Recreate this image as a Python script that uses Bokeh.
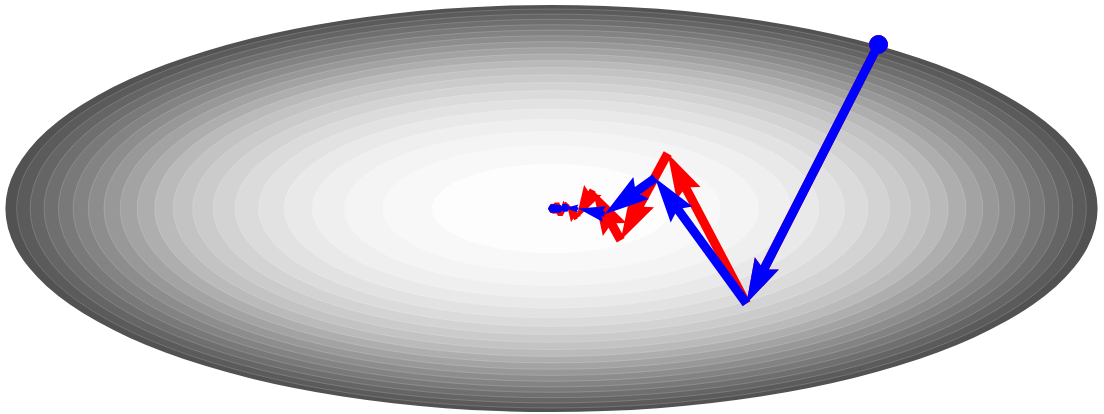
import numpy as np
from bokeh.plotting import figure
from bokeh.models import Range1d
from bokeh.embed import file_html
from bokeh.resources import INLINE

# Contour levels of the bowl f(x, y) = (x / 1.196)^2 + (y / 0.446)^2
levels = [1, 2, 3, 4, 5, 6, 7, 8, 9, 10, 11, 12, 13, 14, 15, 16, 17, 18, 19, 20, 20.85]
level_semi_axes = (1.196, 0.446)
# fill of the band that ends at each level (inner -> outer)
band_colors = ["#fdfdfd", "#f8f8f8", "#f4f4f4", "#efefef", "#e9e9e9", "#e2e2e2", "#dbdbdb",
               "#d3d3d3", "#cbcbcb", "#c3c3c3", "#bababa", "#aeaeae", "#a3a3a3", "#989898",
               "#8d8d8d", "#838383", "#797979", "#6f6f6f", "#656565", "#5b5b5b", "#525252"]

# Iterates of plain gradient descent
gd_x = [3.27, 1.949, 1.162, 0.692, 0.413, 0.246, 0.147, 0.087, 0.052, 0.031, 0.018, 0.011, 0.007]
gd_y = [1.64, -0.950, 0.550, -0.318, 0.184, -0.107, 0.062, -0.036, 0.021, -0.012, 0.007, -0.004, 0.002]

# Iterates of gradient descent with momentum
mom_x = [3.27, 1.949, 1.036, 0.531, 0.268, 0.135, 0.068, 0.034, 0.017, 0.009, 0.004]
mom_y = [1.64, -0.950, 0.304, -0.057, -0.001, 0.006, -0.003, 0.001, 0.000, 0.000, 0.000]


def quiver_shapes(xs, ys, w=0.09, head_len=5.0, head_w=3.0, head_axis=4.5):
    """Arrow polygons (quiver style) between consecutive iterates, in data units."""
    out_x, out_y = [], []
    for x0, y0, x1, y1 in zip(xs[:-1], ys[:-1], xs[1:], ys[1:]):
        dx, dy = x1 - x0, y1 - y0
        length = np.hypot(dx, dy) / w
        if length < 1.0:
            th = np.arange(8) * np.pi / 3.0
            X, Y = 0.5 * np.cos(th), 0.5 * np.sin(th)
        else:
            if length >= head_len:
                bx = np.array([0, length - head_axis, length - head_len, length])
                by = 0.5 * np.array([1, 1, head_w, 0])
            else:
                s = length / head_len
                bx = s * np.array([0, head_len - head_axis, 0, head_len])
                by = s * 0.5 * np.array([1, 1, head_w, 0])
            ii = [0, 1, 2, 3, 2, 1, 0, 0]
            X = bx[ii]
            Y = by[ii].copy()
            Y[3:-1] *= -1
        ang = np.arctan2(dy, dx)
        c, s_ = np.cos(ang), np.sin(ang)
        out_x.append(list(x0 + w * (X * c - Y * s_)))
        out_y.append(list(y0 + w * (X * s_ + Y * c)))
    return out_x, out_y


p = figure(width=1104, height=414, output_backend="svg", toolbar_location=None,
           x_range=Range1d(-5.51, 5.53), y_range=Range1d(-2.06, 2.08),
           x_axis_type=None, y_axis_type=None, min_border=0)
p.grid.visible = False
p.outline_line_color = None
p.background_fill_color = "white"
p.border_fill_color = "white"

# filled contour bands, outermost first
for i in range(len(levels) - 1, -1, -1):
    r = np.sqrt(levels[i])
    p.ellipse(x=0, y=0, width=2 * level_semi_axes[0] * r, height=2 * level_semi_axes[1] * r,
              fill_color=band_colors[i],
              line_color=None if i == len(levels) - 1 else "white",
              line_alpha=0.25, line_width=0.7)

# gradient descent path
qx, qy = quiver_shapes(gd_x, gd_y)
p.patches(qx, qy, fill_color="#ff0000", line_color=None)
p.scatter(gd_x[:1], gd_y[:1], size=18, color="#ff0000")

# momentum path
qx, qy = quiver_shapes(mom_x, mom_y)
p.patches(qx, qy, fill_color="#0000ff", line_color=None)
p.scatter(mom_x[:1], mom_y[:1], size=18, color="#0000ff")

open("out.html", "w").write(file_html(p, INLINE))
